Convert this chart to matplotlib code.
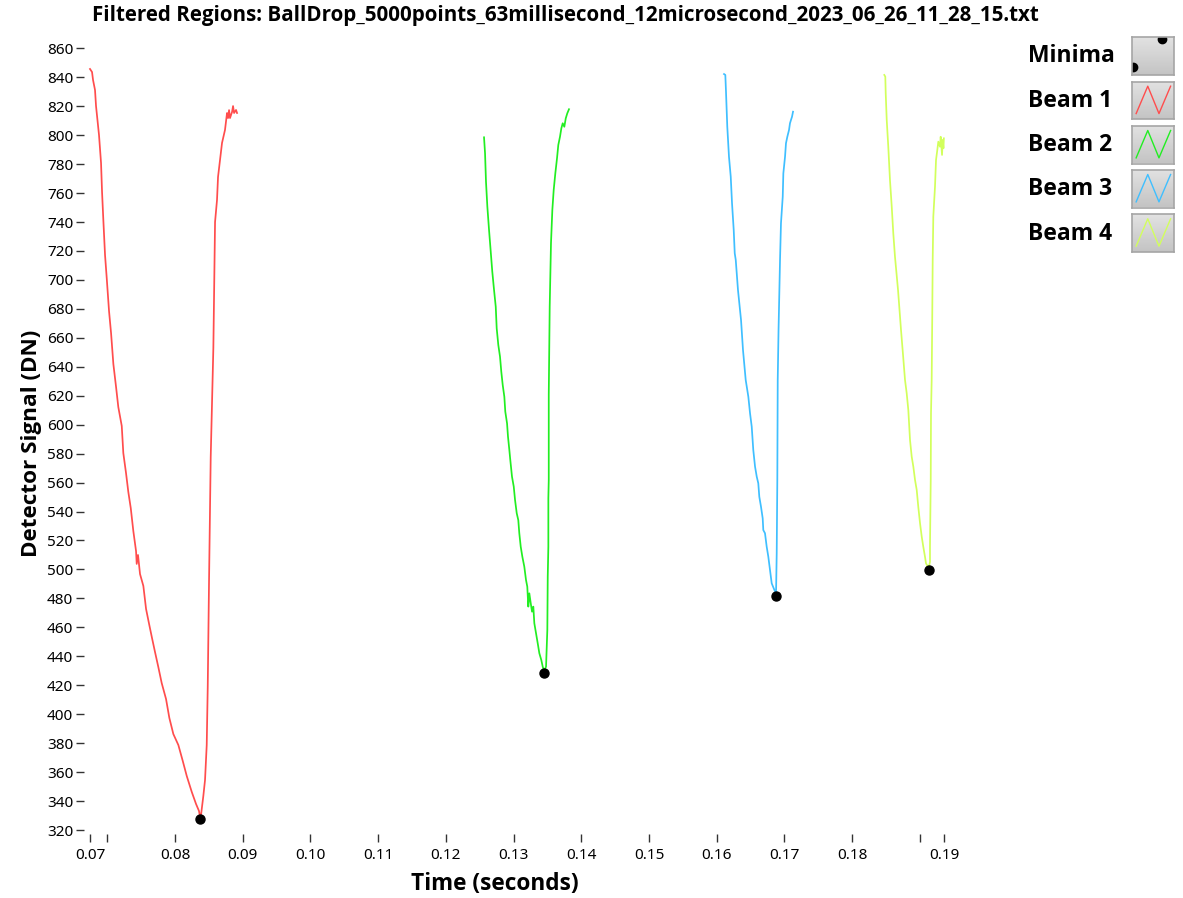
import numpy as np
import matplotlib
matplotlib.use("Agg")
import matplotlib.pyplot as plt

plt.rcParams['font.family'] = ['Noto Sans', 'DejaVu Sans']
bold_family = ['Open Sans', 'Liberation Sans', 'DejaVu Sans']

title = "Filtered Regions: BallDrop_5000points_63millisecond_12microsecond_2023_06_26_11_28_15.txt"
series_names = ["Beam 1", "Beam 2", "Beam 3", "Beam 4"]
series_colors = ["#ff4d4d", "#22ee22", "#3fbfff", "#d2ff5c"]

# Beam 1 (red) - time in s, detector signal in DN
beam1_t = [0.06744, 0.06774, 0.06789, 0.06818, 0.06833, 0.06877, 0.06907, 0.06922, 0.06941,
           0.06966, 0.06991, 0.07025, 0.07055, 0.07089, 0.07129, 0.07162, 0.07213, 0.07236,
           0.07276, 0.07310, 0.07346, 0.07384, 0.07424, 0.07434, 0.07453, 0.07483, 0.07532,
           0.07572, 0.07620, 0.07660, 0.07704, 0.07753, 0.07803, 0.07867, 0.07916, 0.07975,
           0.08049, 0.08114, 0.08173, 0.08247, 0.08310, 0.08354, 0.08369,
           0.08384, 0.08418, 0.08443, 0.08468, 0.08483, 0.08502, 0.08527, 0.08566, 0.08580,
           0.08591, 0.08620, 0.08635, 0.08694, 0.08738, 0.08768, 0.08783, 0.08798, 0.08812,
           0.08842, 0.08857, 0.08872, 0.08901, 0.08916]
beam1_v = [845.7, 843.6, 838.1, 831.2, 820.1, 800.1, 780.8, 760.7, 741.4,
           717.2, 701.3, 678.5, 663.3, 641.9, 626.0, 612.2, 599.1, 580.4,
           566.6, 553.5, 542.4, 526.5, 512.7, 503.8, 510.0, 496.8, 488.6,
           472.7, 461.6, 452.6, 443.0, 432.6, 421.5, 410.5, 397.4, 386.3,
           378.7, 367.7, 357.3, 346.3, 338.0, 333.1, 329.0,
           330.4, 343.5, 354.5, 378.7, 418.8, 491.3, 577.7, 653.0, 701.3,
           740.0, 755.2, 771.1, 794.6, 803.6, 815.3, 811.8, 817.3, 811.8,
           816.0, 820.1, 815.3, 817.4, 815.3]

# Beam 2 (green)
beam2_t = [0.12564, 0.12579, 0.12593, 0.12613, 0.12638, 0.12663, 0.12686, 0.12712, 0.12737,
           0.12751, 0.12775, 0.12800, 0.12819, 0.12840, 0.12864, 0.12878, 0.12904, 0.12918,
           0.12938, 0.12952, 0.12977, 0.13003, 0.13022, 0.13047, 0.13070, 0.13085, 0.13106,
           0.13130, 0.13159, 0.13184, 0.13203, 0.13218, 0.13233, 0.13254, 0.13273, 0.13292,
           0.13307, 0.13332, 0.13357, 0.13381, 0.13410, 0.13431, 0.13450,
           0.13480, 0.13499, 0.13505, 0.13514, 0.13514, 0.13520, 0.13520, 0.13534, 0.13553,
           0.13573, 0.13593, 0.13617, 0.13642, 0.13661, 0.13686, 0.13706, 0.13726, 0.13750,
           0.13771, 0.13794, 0.13819]
beam2_v = [798.5, 787.5, 767.8, 750.6, 734.5, 719.5, 705.7, 693.0, 681.5,
           666.6, 655.0, 647.0, 636.6, 627.4, 619.3, 609.0, 600.9, 591.7,
           582.5, 575.6, 564.1, 557.2, 548.0, 538.8, 534.1, 525.0, 515.7,
           508.8, 501.9, 492.7, 488.1, 474.3, 483.5, 476.6, 470.8, 474.3,
           462.8, 455.9, 449.0, 442.1, 437.4, 432.8, 430.0,
           432.8, 458.2, 495.0, 515.7, 549.1, 561.8, 620.5, 681.5, 725.3,
           748.3, 762.1, 773.6, 784.0, 793.2, 798.9, 804.7, 808.2, 805.8,
           811.6, 815.1, 817.9]

# Beam 3 (blue)
beam3_t = [0.16109, 0.16128, 0.16138, 0.16157, 0.16182, 0.16208, 0.16227, 0.16252, 0.16267,
           0.16282, 0.16315, 0.16360, 0.16389, 0.16429, 0.16468, 0.16493, 0.16518, 0.16541,
           0.16567, 0.16592, 0.16615, 0.16630, 0.16655, 0.16680, 0.16689, 0.16714, 0.16739,
           0.16763, 0.16788, 0.16813, 0.16877,
           0.16887, 0.16896, 0.16902, 0.16914, 0.16936, 0.16950, 0.16976, 0.16985, 0.17010,
           0.17024, 0.17044, 0.17069, 0.17083, 0.17098, 0.17113, 0.17128]
beam3_v = [842.2, 841.6, 830.0, 805.8, 785.1, 771.3, 752.9, 734.5, 718.4,
           713.8, 693.0, 672.3, 651.6, 630.9, 619.3, 607.9, 598.6, 582.5,
           571.0, 564.1, 559.5, 550.2, 543.3, 535.3, 527.2, 525.0, 515.7,
           508.8, 499.6, 490.4, 483.0,
           511.1, 561.8, 630.9, 665.4, 713.8, 739.1, 757.5, 773.6, 785.1,
           794.4, 798.9, 803.6, 808.2, 810.5, 812.7, 816.2]

# Beam 4 (yellow-green)
beam4_t = [0.18476, 0.18491, 0.18497, 0.18512, 0.18535, 0.18560, 0.18586, 0.18609, 0.18634,
           0.18679, 0.18723, 0.18753, 0.18782, 0.18807, 0.18831, 0.18856, 0.18881, 0.18905,
           0.18930, 0.18955, 0.18978, 0.19004, 0.19029, 0.19052, 0.19077, 0.19092, 0.19132,
           0.19151, 0.19151, 0.19162, 0.19166, 0.19176, 0.19184, 0.19191, 0.19200, 0.19225,
           0.19240, 0.19259, 0.19274, 0.19299, 0.19309, 0.19329, 0.19339, 0.19350, 0.19356]
beam4_v = [841.6, 840.4, 828.9, 810.5, 792.0, 769.0, 750.6, 732.2, 716.0,
           693.0, 665.4, 648.1, 630.9, 621.7, 610.1, 589.4, 577.9, 571.0,
           561.8, 554.9, 543.3, 531.9, 522.6, 515.7, 508.8, 504.2, 501.0,
           505.3, 515.7, 561.8, 607.9, 630.9, 672.3, 713.8, 743.7, 764.4,
           782.8, 789.7, 795.5, 792.0, 798.9, 786.3, 796.7, 790.9, 797.8]

# minima markers
minima_t = [0.08369, 0.13450, 0.16877, 0.19132]
minima_v = [327.6, 428.7, 481.6, 499.6]

# x axis: LabVIEW style end ticks plus decade ticks
x_min, x_max = 0.06744, 0.19358
x_ticks = [x_min, 0.07, 0.08, 0.09, 0.10, 0.11, 0.12, 0.13, 0.14, 0.15, 0.16, 0.17, 0.18, 0.19, x_max]
x_ticklabels = ["0.07", "", "0.08", "0.09", "0.10", "0.11", "0.12", "0.13", "0.14", "0.15",
                "0.16", "0.17", "0.18", "", "0.19"]
y_ticks = list(range(320, 861, 20))

W, H = 1183, 898
fig = plt.figure(figsize=(W / 100, H / 100), dpi=100)
ax = fig.add_axes([90 / W, 1 - 830 / H, (944 - 90) / W, (830 - 39.6) / H])

series = [(beam1_t, beam1_v), (beam2_t, beam2_v), (beam3_t, beam3_v), (beam4_t, beam4_v)]
for (t, v), c in zip(series, series_colors):
    ax.plot(t, v, color=c, lw=1.25, clip_on=False)
ax.plot(minima_t, minima_v, 'o', color='black', ms=6.5, zorder=5, clip_on=False)

ax.set_xlim(x_min, x_max)
ax.set_ylim(320, 866)
ax.set_xticks(x_ticks)
ax.set_xticklabels(x_ticklabels)
ax.set_yticks(y_ticks)
for s in ax.spines.values():
    s.set_visible(False)
ax.spines['left'].set_position(('outward', 4))
ax.spines['bottom'].set_position(('outward', 3))
ax.tick_params(axis='y', length=6, width=1, color='#333333', labelsize=11, pad=2)
ax.tick_params(axis='x', length=6, width=1, color='#333333', labelsize=11, pad=4)

fig.text(565 / W, 1 - 16 / H, title, ha='center', va='center', fontsize=14.8,
         fontweight='bold', family=bold_family)
fig.text(495 / W, 1 - 884 / H, "Time (seconds)", ha='center', va='center', fontsize=16.3,
         fontweight='bold', family=bold_family)
fig.text(32 / W, 1 - 443 / H, "Detector Signal (DN)", ha='center', va='center', rotation=90,
         fontsize=16.2, fontweight='bold', family=bold_family)

# legend on the right, drawn as LabVIEW plot legend buttons
legend_labels = ["Minima"] + series_names
legend_rows = [56, 101, 145, 189, 234]
icon_tops = [37.3, 81.7, 126, 170, 214.3]
for i, (lab, yc, top) in enumerate(zip(legend_labels, legend_rows, icon_tops)):
    fig.text(1028 / W, 1 - yc / H, lab, ha='left', va='center', fontsize=16.5,
             fontweight='bold', family=bold_family)
    iax = fig.add_axes([1132 / W, 1 - (top + 37.5) / H, 41.5 / W, 37.5 / H])
    grad = np.linspace(0, 1, 50).reshape(-1, 1)
    iax.imshow(grad, cmap=matplotlib.colors.LinearSegmentedColormap.from_list('g', ['#e2e2e2', '#c4c4c4']),
               extent=[0, 1, 0, 1], aspect='auto', origin='upper')
    iax.set_xlim(0, 1)
    iax.set_ylim(0, 1)
    iax.set_xticks([])
    iax.set_yticks([])
    for s in iax.spines.values():
        s.set_color('#a5a5a5')
        s.set_linewidth(1.2)
    if i == 0:
        iax.plot([0.72, 0.03], [0.95, 0.22], 'o', color='black', ms=6, clip_on=True)
    else:
        iax.plot([0.1, 0.38, 0.65, 0.93], [0.15, 0.88, 0.15, 0.88], color=series_colors[i - 1], lw=1)

fig.savefig("out.png", dpi=100)
